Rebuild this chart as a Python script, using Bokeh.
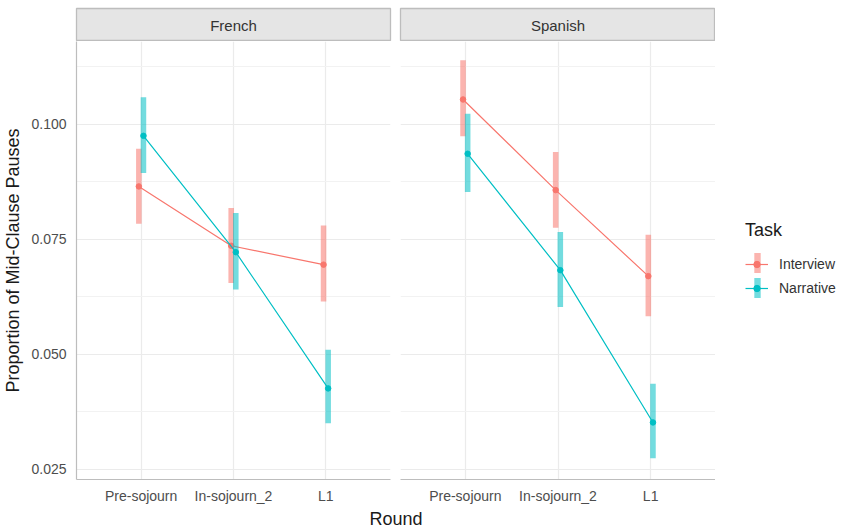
from bokeh.plotting import figure
from bokeh.models import (ColumnDataSource, FactorRange, Range1d, FixedTicker,
                          NumeralTickFormatter, Legend, LegendItem, Label)
from bokeh.layouts import row, column
from bokeh.transform import dodge
from bokeh.embed import file_html
from bokeh.resources import INLINE

# ---------------- data ----------------
rounds = ["Pre-sojourn", "In-sojourn_2", "L1"]
languages = ["French", "Spanish"]
tasks = ["Interview", "Narrative"]
task_colors = ["#F8766D", "#00BFC4"]

french_interview_mean = [0.0865, 0.0736, 0.0695]
french_interview_lower = [0.0784, 0.0655, 0.0615]
french_interview_upper = [0.0947, 0.0818, 0.0780]

french_narrative_mean = [0.0975, 0.0722, 0.0426]
french_narrative_lower = [0.0894, 0.0641, 0.0350]
french_narrative_upper = [0.1059, 0.0807, 0.0510]

spanish_interview_mean = [0.1054, 0.0857, 0.0670]
spanish_interview_lower = [0.0974, 0.0775, 0.0583]
spanish_interview_upper = [0.1139, 0.0940, 0.0760]

spanish_narrative_mean = [0.0936, 0.0683, 0.0352]
spanish_narrative_lower = [0.0853, 0.0603, 0.0274]
spanish_narrative_upper = [0.1023, 0.0766, 0.0436]

y_ticks = [0.025, 0.050, 0.075, 0.100]
y_minor_ticks = [0.0375, 0.0625, 0.0875, 0.1125]
y_title = "Proportion of Mid-Clause Pauses"
x_title = "Round"
legend_title = "Task"

series = {
    ("French", "Interview"): (french_interview_mean, french_interview_lower, french_interview_upper),
    ("French", "Narrative"): (french_narrative_mean, french_narrative_lower, french_narrative_upper),
    ("Spanish", "Interview"): (spanish_interview_mean, spanish_interview_lower, spanish_interview_upper),
    ("Spanish", "Narrative"): (spanish_narrative_mean, spanish_narrative_lower, spanish_narrative_upper),
}

# ---------------- style ----------------
FONT = "Liberation Sans"
DODGE = [-0.025, 0.025]
BAR_W = 0.06
BAR_ALPHA = 0.55
GRID = "#EBEBEB"
AXIS_LINE = "#BDBDBD"
TICK_COLOR = "#4D4D4D"
TITLE_COLOR = "#1A1A1A"

FRAME_H = 438
STRIP_H = 33
STRIP_TOP = 8
BOTTOM_B = 24
LEFT_B = 76

sources = {k: ColumnDataSource(dict(round=rounds, mean=v[0], lower=v[1], upper=v[2]))
           for k, v in series.items()}

ticker = FixedTicker(ticks=y_ticks, minor_ticks=y_minor_ticks)


def make_panel(lang, first):
    fw = 314 if first else 315
    p = figure(x_range=FactorRange(factors=rounds, range_padding=0.2,
                                   range_padding_units="absolute"),
               y_range=Range1d(0.0228, 0.1180),
               frame_width=fw, frame_height=FRAME_H,
               min_border=0,
               min_border_left=LEFT_B if first else 5,
               min_border_right=5 if first else 0,
               min_border_top=0, min_border_bottom=BOTTOM_B,
               output_backend="svg", toolbar_location=None,
               outline_line_color=None, background_fill_color="white",
               border_fill_color="white")
    p.ygrid.ticker = ticker
    p.yaxis.ticker = ticker
    p.ygrid.grid_line_color = GRID
    p.ygrid.grid_line_width = 1.2
    p.ygrid.minor_grid_line_color = "#F2F2F2"
    p.ygrid.minor_grid_line_width = 1.0
    p.xgrid.grid_line_color = GRID
    p.xgrid.grid_line_width = 1.2

    for ax in (p.xaxis[0], p.yaxis[0]):
        ax.major_tick_out = 0
        ax.major_tick_in = 0
        ax.minor_tick_out = 0
        ax.minor_tick_in = 0
        ax.axis_line_color = AXIS_LINE
        ax.axis_line_width = 1.2
        ax.major_label_text_font = FONT
        ax.major_label_text_font_size = "14px"
        ax.major_label_text_color = TICK_COLOR
    p.xaxis.major_label_standoff = 8
    p.yaxis.formatter = NumeralTickFormatter(format="0.000")
    p.yaxis.major_label_standoff = 10
    if first:
        p.yaxis.axis_label = y_title
        p.yaxis.axis_label_text_font = FONT
        p.yaxis.axis_label_text_font_size = "18px"
        p.yaxis.axis_label_text_font_style = "normal"
        p.yaxis.axis_label_text_color = TITLE_COLOR
        p.yaxis.axis_label_standoff = 5
    else:
        p.yaxis.visible = False

    for task, color, off in zip(tasks, task_colors, DODGE):
        src = sources[(lang, task)]
        x = dodge("round", off, range=p.x_range)
        p.vbar(x=x, width=BAR_W, bottom="lower", top="upper", source=src,
               fill_color=color, fill_alpha=BAR_ALPHA, line_color=None)
        p.line(x=x, y="mean", source=src, line_color=color, line_width=1.2)
        p.scatter(x=x, y="mean", source=src, size=5.5, fill_color=color,
                  line_color=color)
    return p


def make_strip(lang, first):
    fw = 314 if first else 315
    s = figure(x_range=Range1d(0, 1), y_range=Range1d(0, 1),
               frame_width=fw, frame_height=STRIP_H,
               min_border=0,
               min_border_left=LEFT_B if first else 5,
               min_border_right=5 if first else 0,
               min_border_top=STRIP_TOP, min_border_bottom=0,
               x_axis_location=None, y_axis_location=None,
               output_backend="svg", toolbar_location=None,
               background_fill_color="#E5E5E5",
               outline_line_color="#BDBDBD", outline_line_width=1.3)
    s.grid.visible = False
    s.add_layout(Label(x=0.5, y=0.5, text=lang, text_align="center",
                       text_baseline="middle", text_font=FONT,
                       text_font_size="15px", text_color="#333333"))
    return s


p1 = make_panel(languages[0], True)
p2 = make_panel(languages[1], False)
s1 = make_strip(languages[0], True)
s2 = make_strip(languages[1], False)

# ---------------- legend figure ----------------
LFIG_H = STRIP_TOP + STRIP_H + FRAME_H + BOTTOM_B
lfig = figure(width=125, height=LFIG_H,
              x_range=Range1d(100, 101), y_range=Range1d(100, 101),
              x_axis_location=None, y_axis_location=None, min_border=0,
              outline_line_color=None, output_backend="svg",
              toolbar_location=None)
lfig.grid.visible = False

bar_items, line_items = [], []
for task, color, off in zip(tasks, task_colors, DODGE):
    src = sources[("French", task)]
    x = dodge("round", off, range=p1.x_range)
    rb = lfig.vbar(x=x, width=BAR_W, bottom="lower", top="upper", source=src,
                   fill_color=color, fill_alpha=BAR_ALPHA, line_color=None)
    rl = lfig.line(x=x, y="mean", source=src, line_color=color, line_width=1.2)
    rp = lfig.scatter(x=x, y="mean", source=src, size=5.5, fill_color=color,
                      line_color=color)
    bar_items.append(LegendItem(label="", renderers=[rb]))
    line_items.append(LegendItem(label=task, renderers=[rl, rp]))

VY1 = 207
leg_bars = Legend(items=bar_items, location=(37.5, VY1 - 3.5),
                  glyph_width=8, glyph_height=25, label_height=25, spacing=0,
                  label_standoff=0, label_width=0, label_text_font_size="14px",
                  padding=0, margin=0, background_fill_alpha=0,
                  border_line_color=None)
leg_lines = Legend(items=line_items, location=(30, VY1),
                   title=legend_title, title_text_font=FONT,
                   title_text_font_size="18px", title_text_font_style="normal",
                   title_standoff=15, title_text_color=TITLE_COLOR,
                   label_text_font=FONT, label_text_font_size="14px",
                   label_text_color="#333333",
                   glyph_width=23, glyph_height=16, label_height=16, spacing=8,
                   label_standoff=11, padding=0, margin=0,
                   background_fill_alpha=0, border_line_color=None)
lfig.add_layout(leg_bars)
lfig.add_layout(leg_lines)

# ---------------- shared x title ----------------
bfig = figure(x_range=Range1d(0, 1), y_range=Range1d(0, 1),
              frame_width=314 + 5 + 5 + 315, frame_height=24,
              min_border=0, min_border_left=LEFT_B,
              x_axis_location=None, y_axis_location=None,
              outline_line_color=None, output_backend="svg",
              toolbar_location=None)
bfig.grid.visible = False
bfig.add_layout(Label(x=0.5, y=0.5, text=x_title, text_align="center",
                      text_baseline="middle", text_font=FONT,
                      text_font_size="18px", text_color=TITLE_COLOR))

layout = column(row(column(s1, p1), column(s2, p2), lfig), bfig)

open("out.html", "w").write(file_html(layout, INLINE, "chart"))
